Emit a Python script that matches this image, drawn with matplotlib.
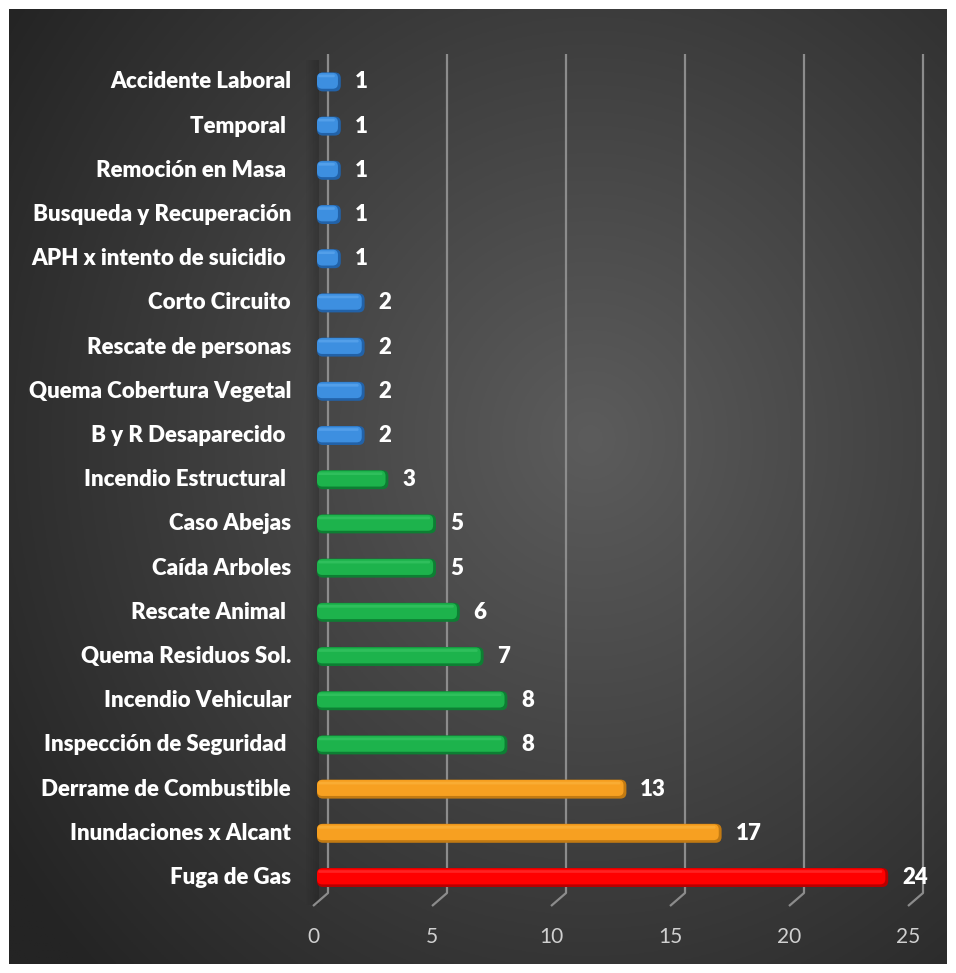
import numpy as np
import matplotlib
matplotlib.use('Agg')
import matplotlib.pyplot as plt
from matplotlib.patches import FancyBboxPatch, Rectangle

plt.rcParams['font.family'] = ['Lato', 'DejaVu Sans']

# data (bottom to top)
categories = ['Fuga de Gas', 'Inundaciones x Alcant', 'Derrame de Combustible',
              'Inspección de Seguridad ', 'Incendio Vehicular', 'Quema Residuos Sol.',
              'Rescate Animal ', 'Caída Arboles', 'Caso Abejas', 'Incendio Estructural ',
              'B y R Desaparecido ', 'Quema Cobertura Vegetal', 'Rescate de personas',
              'Corto Circuito', 'APH x intento de suicidio ', 'Busqueda y Recuperación',
              'Remoción en Masa ', 'Temporal ', 'Accidente Laboral']
values = [24, 17, 13, 8, 8, 7, 6, 5, 5, 3, 2, 2, 2, 2, 1, 1, 1, 1, 1]
groups = ['red', 'orange', 'orange', 'green', 'green', 'green', 'green', 'green', 'green',
          'green', 'blue', 'blue', 'blue', 'blue', 'blue', 'blue', 'blue', 'blue', 'blue']
xticks = [0, 5, 10, 15, 20, 25]

face = {'red': '#ff0000', 'orange': '#f7a021', 'green': '#1db34c', 'blue': '#3d8fe0'}
edge = {'red': '#b80000', 'orange': '#c27a12', 'green': '#0d7f33', 'blue': '#2262a8'}
light = {'red': '#ff3a3a', 'orange': '#fbb540', 'green': '#3cc867', 'blue': '#62aaf0'}

W, H = 956, 973
fig = plt.figure(figsize=(W / 100, H / 100), dpi=100)
fig.patch.set_facecolor('white')

# dark panel with radial gradient
bg = fig.add_axes([9 / W, 9 / H, 938 / W, 955 / H])
yy, xx = np.mgrid[0:1:400j, 0:1:400j]
r = np.sqrt(((xx - 0.62) / 0.75) ** 2 + ((yy - 0.55) / 0.8) ** 2)
r = np.clip(r, 0, 1)
c0 = np.array([0x5c, 0x5c, 0x5c]) / 255
c1 = np.array([0x24, 0x24, 0x24]) / 255
img = c0[None, None, :] * (1 - r[..., None]) + c1[None, None, :] * r[..., None]
bg.imshow(img, extent=[0, 1, 0, 1], aspect='auto', origin='lower')
bg.axis('off')

# main axes: x 0..25 -> px 317..912, y idx -> px 877.5 - idx*44.2
x0, sx = 317, 23.8
y0, sy = 877.5, 44.2
top_px, bot_px = 50, 910
ax = fig.add_axes([x0 / W, (H - bot_px) / H, 25 * sx / W, (bot_px - top_px) / H])
ax.set_xlim(0, 25)
ax.set_ylim((y0 - bot_px) / sy, (y0 - top_px) / sy)
ax.axis('off')
ax.patch.set_alpha(0)

def ypx(p):
    return (y0 - p) / sy

back = (328 - x0) / sx
front = (313 - x0) / sx

# left wall shadow (soft)
for k in range(14):
    ax.add_patch(Rectangle((front - 0.3 + k * 0.04, ypx(905)), 0.04, ypx(60) - ypx(905),
                           color='black', alpha=0.02 + 0.012 * k, lw=0, zorder=1,
                           clip_on=False))

# gridlines with perspective foot
for v in xticks:
    ax.plot([v + back, v + back, v + front], [ypx(54), ypx(893), ypx(906)],
            color='#8c8c8c', lw=1.6, zorder=2, solid_capstyle='butt', clip_on=False)
    ax.text(v + front, ypx(937), str(v), color='#d0d0d0', fontsize=15,
            ha='center', va='center', clip_on=False)

# bars
h = 0.43
asp = sx / sy
for i, (cat, v, g) in enumerate(zip(categories, values, groups)):
    ax.add_patch(FancyBboxPatch((0, i - h / 2), v, h,
                                boxstyle='round,pad=0,rounding_size=0.25',
                                mutation_aspect=asp, fc=edge[g], ec='none', zorder=3))
    ax.add_patch(FancyBboxPatch((0, i - h / 2 + 0.06), v - 0.12, h - 0.07,
                                boxstyle='round,pad=0,rounding_size=0.22',
                                mutation_aspect=asp, fc=face[g], ec='none', zorder=4))
    ax.add_patch(FancyBboxPatch((0.05, i + h / 2 - 0.11), v - 0.3, 0.06,
                                boxstyle='round,pad=0,rounding_size=0.05',
                                mutation_aspect=asp, fc=light[g], ec='none', alpha=0.6, zorder=5))
    ax.annotate(str(v), (v, i), xytext=(10, 0), textcoords='offset points',
                color='white', fontsize=16, fontweight='heavy', ha='left', va='center',
                annotation_clip=False, zorder=6)
    ax.text((291 - x0) / sx, i, cat, color='white', fontsize=16, fontweight='heavy',
            ha='right', va='center', clip_on=False)

fig.savefig('out.png', dpi=100, facecolor='white')
